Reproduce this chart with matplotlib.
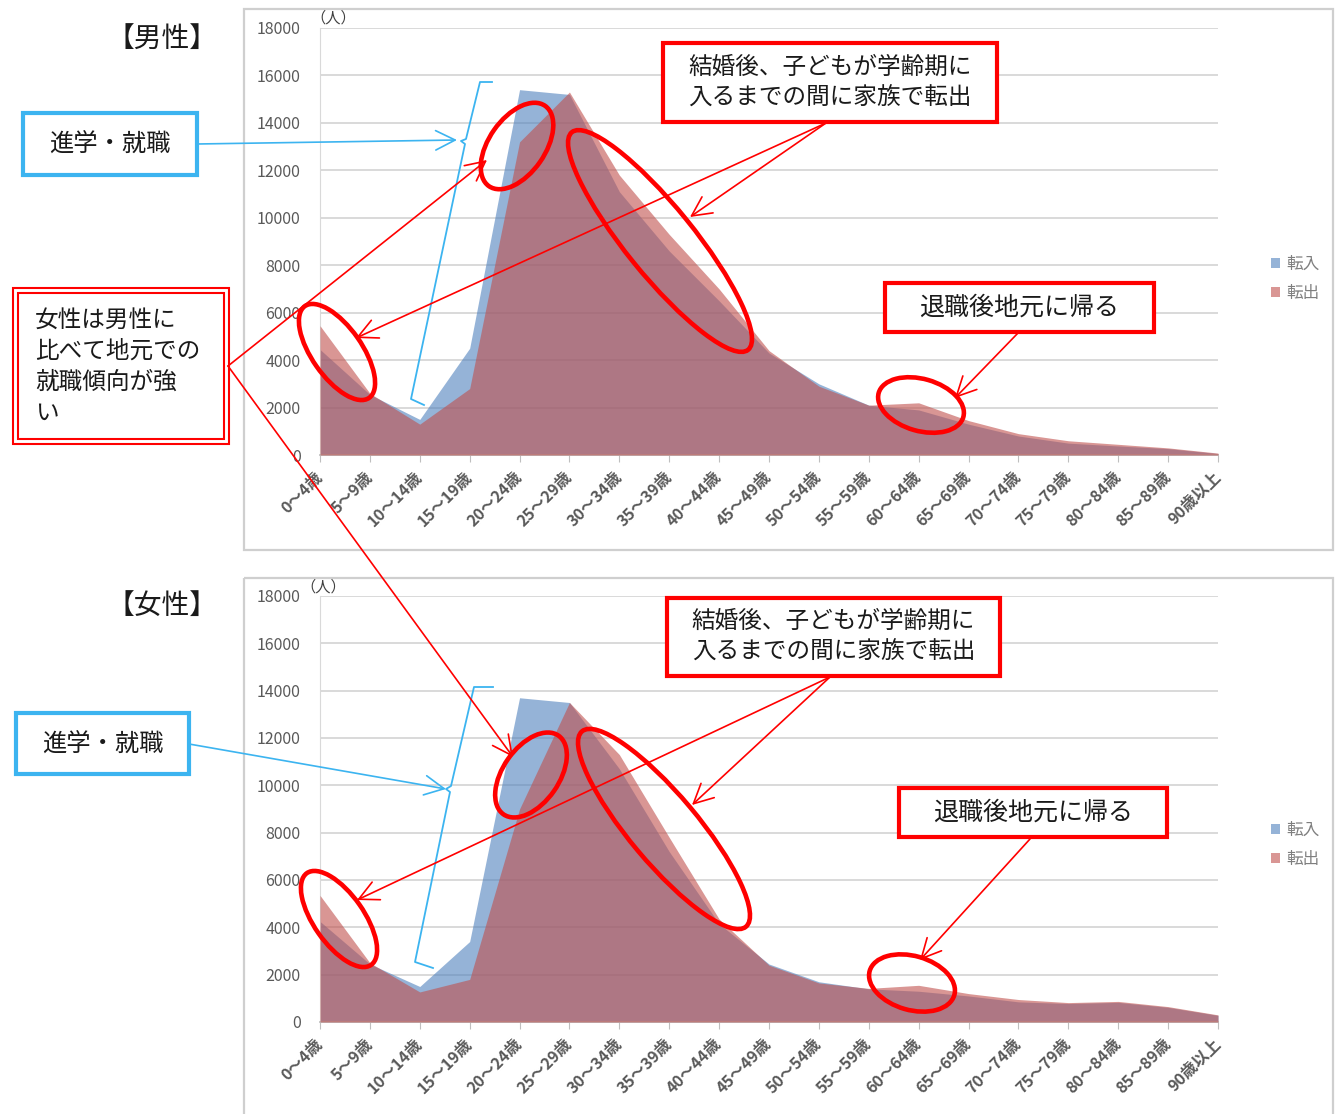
import matplotlib
matplotlib.use("Agg")
import matplotlib.pyplot as plt
from matplotlib.patches import Rectangle, Ellipse, Patch
import numpy as np

plt.rcParams['font.family'] = ['Noto Sans CJK JP', 'DejaVu Sans']

# age groups and series
ages = ['0～4歳', '5～9歳', '10～14歳', '15～19歳', '20～24歳', '25～29歳',
        '30～34歳', '35～39歳', '40～44歳', '45～49歳', '50～54歳', '55～59歳',
        '60～64歳', '65～69歳', '70～74歳', '75～79歳', '80～84歳', '85～89歳',
        '90歳以上']
series_names = ['転入', '転出']
yticks = [0, 2000, 4000, 6000, 8000, 10000, 12000, 14000, 16000, 18000]

# 男性
male_in = [4450, 2550, 1500, 4500, 15400, 15200, 11100, 8600, 6500, 4300,
           3000, 2100, 1900, 1300, 800, 500, 380, 270, 60]
male_out = [5450, 2600, 1300, 2800, 13200, 15300, 11800, 9300, 7000, 4400,
            2900, 2100, 2200, 1450, 900, 600, 450, 300, 80]
# 女性
female_in = [4250, 2450, 1500, 3400, 13700, 13500, 10700, 7200, 4150, 2450,
             1700, 1400, 1300, 1100, 850, 780, 830, 620, 280]
female_out = [5350, 2500, 1270, 1800, 9000, 13500, 11300, 7800, 4350, 2400,
              1650, 1420, 1550, 1200, 950, 820, 870, 650, 300]

W, H = 1336, 1114
fig = plt.figure(figsize=(W / 100, H / 100), dpi=100)

blue = '#4F81BD'
red = '#C0504D'
gray = '#595959'


def px_rect(x0, x1, y_top, y_bot):
    return [x0 / W, 1 - y_bot / H, (x1 - x0) / W, (y_bot - y_top) / H]


def draw_chart(rect, v_in, v_out):
    ax = fig.add_axes(rect)
    x = np.arange(len(ages))
    ax.fill_between(x, v_in, color=blue, alpha=0.6, lw=0, zorder=2)
    ax.fill_between(x, v_out, color=red, alpha=0.6, lw=0, zorder=3)
    ax.set_xlim(0, len(ages) - 1)
    ax.set_ylim(0, 18000)
    ax.set_yticks(yticks)
    ax.set_yticklabels([str(v) for v in yticks])
    ax.yaxis.grid(True, color='#D9D9D9', lw=1.4)
    ax.set_axisbelow(True)
    ax.set_xticks(x)
    ax.set_xticklabels(ages, rotation=45, ha='right', va='center',
                       rotation_mode='anchor', fontweight='bold')
    ax.tick_params(axis='y', length=0, pad=14, labelsize=11.5, labelcolor=gray)
    ax.tick_params(axis='x', length=5, color='#BFBFBF', pad=9,
                   labelsize=11.5, labelcolor=gray)
    for s in ['top', 'right']:
        ax.spines[s].set_visible(False)
    ax.spines['left'].set_color('#D9D9D9')
    ax.spines['bottom'].set_color('#BFBFBF')
    ax.spines['bottom'].set_linewidth(1.3)
    ax.set_facecolor('none')
    handles = [Patch(facecolor=blue, alpha=0.6), Patch(facecolor=red, alpha=0.6)]
    return ax, handles


ax1, h1 = draw_chart(px_rect(320, 1218, 28, 455), male_in, male_out)
ax1.legend(h1, series_names, loc='center left',
           bbox_to_anchor=(1256 / W, 1 - 279 / H), bbox_transform=fig.transFigure,
           frameon=False, fontsize=12, handlelength=0.55, handleheight=0.55,
           handletextpad=0.35, labelspacing=0.75, labelcolor='#7F7F7F')
ax2, h2 = draw_chart(px_rect(320, 1218, 596, 1022), female_in, female_out)
ax2.legend(h2, series_names, loc='center left',
           bbox_to_anchor=(1256 / W, 1 - 845 / H), bbox_transform=fig.transFigure,
           frameon=False, fontsize=12, handlelength=0.55, handleheight=0.55,
           handletextpad=0.35, labelspacing=0.75, labelcolor='#7F7F7F')

# overlay in pixel coordinates (y down)
ov = fig.add_axes([0, 0, 1, 1])
ov.set_xlim(0, W)
ov.set_ylim(H, 0)
ov.axis('off')
ov.set_facecolor('none')

# chart frames
ov.add_patch(Rectangle((244, 9), 1089, 541, fill=False, ec='#CFCFCF', lw=1.6))
ov.add_patch(Rectangle((244, 578), 1089, 545, fill=False, ec='#CFCFCF', lw=1.6))

ov.text(333, 18, '（人）', fontsize=11, color='#404040', ha='center', va='center')
ov.text(323, 587, '（人）', fontsize=11, color='#404040', ha='center', va='center')

ov.text(162, 40, '【男性】', fontsize=20, color='#1A1A1A', ha='center', va='center')
ov.text(162, 606, '【女性】', fontsize=20, color='#1A1A1A', ha='center', va='center')

sky = '#3CB4F0'


def box(x0, y0, x1, y1, ec, text, fs=17, lw=3):
    ov.add_patch(Rectangle((x0, y0), x1 - x0, y1 - y0, fc='white', ec=ec, lw=lw, zorder=5))
    ov.text((x0 + x1) / 2, (y0 + y1) / 2, text, fontsize=fs, color='#1A1A1A',
            ha='center', va='center', linespacing=1.45, zorder=6)


def arrow(p0, p1, color, lw=1.2):
    ov.annotate('', xy=p1, xytext=p0,
                arrowprops=dict(arrowstyle='->,head_length=1.0,head_width=0.5',
                                color=color, lw=lw, shrinkA=0, shrinkB=0,
                                mutation_scale=14), zorder=7)


def ring(cx, cy, w, h, ang):
    ov.add_patch(Ellipse((cx, cy), w, h, angle=ang, fill=False, ec='#FF0000',
                         lw=3.3, zorder=6))


# --- blue "進学・就職" callouts
box(23, 113, 197, 175, sky, '進学・就職', fs=17.5)
arrow((197, 144), (457, 140), sky)
ov.plot([492, 480, 466, 461, 465, 411, 424], [82, 82, 139, 141, 144, 399, 405],
        color=sky, lw=1.3, zorder=6)

box(16, 713, 189, 774, sky, '進学・就職', fs=17.5)
arrow((189, 744), (446, 789), sky)
ov.plot([493, 474, 451, 446, 450, 415, 433], [687, 687, 786, 789, 792, 962, 968],
        color=sky, lw=1.3, zorder=6)

# --- red callouts, top chart
box(663, 43, 997, 122, '#FF0000', '結婚後、子どもが学齢期に\n入るまでの間に家族で転出')
arrow((826, 123), (690, 217), '#FF0000')
arrow((826, 123), (356, 338), '#FF0000')
ring(337, 352, 112, 50, 55)
ring(517, 146, 98, 56, -55)
ring(660, 241, 280, 68, 51)
ring(921, 405, 88, 52, 16)
box(885, 283, 1154, 332, '#FF0000', '退職後地元に帰る', fs=18)
arrow((1018, 333), (955, 398), '#FF0000')

# --- red callouts, bottom chart
box(667, 598, 1000, 676, '#FF0000', '結婚後、子どもが学齢期に\n入るまでの間に家族で転出')
arrow((830, 677), (692, 805), '#FF0000')
arrow((830, 677), (357, 900), '#FF0000')
ring(339, 919, 112, 50, 55)
ring(531, 775, 96, 56, -55)
ring(664, 829, 255, 68, 50)
ring(912, 983, 88, 54, 16)
box(899, 788, 1167, 837, '#FF0000', '退職後地元に帰る', fs=18)
arrow((1030, 839), (920, 960), '#FF0000')

# --- double framed note
ov.add_patch(Rectangle((13, 288), 216, 156, fc='white', ec='#FF0000', lw=1.5, zorder=5))
ov.add_patch(Rectangle((18, 293), 206, 146, fill=False, ec='#FF0000', lw=1.5, zorder=5))
ov.text(35, 367, '女性は男性に\n比べて地元での\n就職傾向が強\nい', fontsize=17,
        color='#1A1A1A', ha='left', va='center', linespacing=1.45, zorder=6)
arrow((228, 366), (487, 160), '#FF0000')
arrow((228, 366), (513, 757), '#FF0000')

fig.savefig('out.png', dpi=100, facecolor='white')
